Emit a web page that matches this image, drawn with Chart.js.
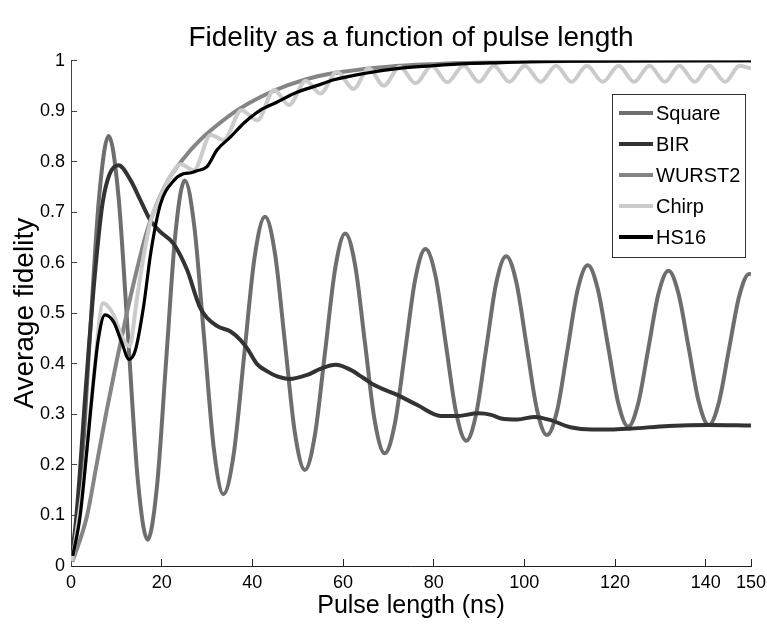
<!DOCTYPE html>
<html>
<head>
<meta charset="utf-8">
<script src="https://cdn.jsdelivr.net/npm/chart.js@4.4.1/dist/chart.umd.min.js"></script>
<style>
    html, body { margin: 0; padding: 0; background: #fff; }
    #wrap { width: 767px; height: 624px; }
</style>
</head>
<body>
<div id="wrap"><canvas id="chart" width="767" height="624"></canvas></div>
<script>
// tick values
const xTickValues = [0, 20, 40, 60, 80, 100, 120, 140, 150];
const yTickValues = [0, 0.1, 0.2, 0.3, 0.4, 0.5, 0.6, 0.7, 0.8, 0.9, 1];

const seriesNames = ["Square", "BIR", "WURST2", "Chirp", "HS16"];

// Square pulse (Rabi-like oscillation)
const squareX = [0, 1.9, 4.0, 6.2, 8.3, 10.45, 12.6, 14.75, 16.9, 18.95, 21.0, 23.05, 25.1,
    27.2, 29.35, 31.5, 33.6, 35.9, 38.2, 40.5, 42.8, 45.0, 47.2, 49.4, 51.6,
    53.8, 56.05, 58.3, 60.5, 62.7, 64.85, 67.0, 69.2, 71.45, 73.7, 75.95, 78.2,
    80.45, 82.7, 84.95, 87.2, 89.4, 91.6, 93.8, 96.0, 98.25, 100.5, 102.75, 105.0,
    107.25, 109.5, 111.75, 114.0, 116.2, 118.45, 120.7, 122.9, 125.1, 127.35, 129.6, 131.8,
    134.0, 136.25, 138.5, 140.7, 142.9, 145.15, 147.4, 149.6, 150];
const squareY = [0.012, 0.13, 0.43, 0.73, 0.851, 0.734, 0.452, 0.169, 0.052, 0.156, 0.408, 0.659, 0.763,
    0.672, 0.453, 0.233, 0.142, 0.222, 0.417, 0.611, 0.691, 0.618, 0.441, 0.263, 0.190,
    0.259, 0.424, 0.590, 0.658, 0.594, 0.441, 0.287, 0.223, 0.282, 0.425, 0.568, 0.627,
    0.572, 0.438, 0.304, 0.248, 0.302, 0.431, 0.560, 0.613, 0.561, 0.436, 0.311, 0.259,
    0.308, 0.427, 0.546, 0.595, 0.548, 0.436, 0.323, 0.276, 0.321, 0.430, 0.539, 0.584,
    0.539, 0.432, 0.324, 0.279, 0.323, 0.429, 0.534, 0.578, 0.577];

// BIR
const birX = [0, 1, 2, 3, 4, 5, 6, 7, 8.5, 10.5, 13.1, 15.3, 17.5, 19.7, 22.6, 25.6, 28.5,
    32.2, 35.2, 37.4, 38.9, 41, 43.3, 45.5, 48.1, 52.1, 55, 58.4, 61.7, 64.5, 66.9,
    72.1, 76.5, 81.6, 85.3, 89.8, 92.7, 94.9, 98.5, 102.3, 105.6, 110.4, 114.8, 119,
    123.7, 131.8, 140.6, 150];
const birY = [0.01, 0.08, 0.19, 0.32, 0.44, 0.55, 0.645, 0.72, 0.775, 0.793, 0.764, 0.724, 0.684,
    0.661, 0.638, 0.586, 0.511, 0.475, 0.464, 0.447, 0.43, 0.40, 0.385, 0.375, 0.37,
    0.378, 0.39, 0.398, 0.388, 0.372, 0.358, 0.338, 0.318, 0.297, 0.297, 0.302, 0.299,
    0.292, 0.29, 0.295, 0.289, 0.274, 0.27, 0.27, 0.272, 0.277, 0.279, 0.278];

// WURST2
const wurstX = [0.3, 3.5, 5.7, 7.9, 10.1, 12.3, 14.5, 16.5, 18.2, 21.2, 24.8, 28.5, 32.2,
    36.7, 41.8, 47.7, 54.4, 60, 70, 80, 90, 100, 110, 150];
const wurstY = [0.008, 0.098, 0.203, 0.309, 0.407, 0.5, 0.585, 0.655, 0.70, 0.76, 0.806, 0.843,
    0.872, 0.902, 0.928, 0.951, 0.969, 0.978, 0.988, 0.993, 0.996, 0.998, 0.999, 1.0];

// Chirp
const chirpX = [0.3, 2.7, 4.9, 7.1, 9.4, 11.2, 12.9, 14.5, 16.0, 17.5, 19.7, 22.0, 24.2, 27.1,
    30.8, 33.7, 37.6, 41.1, 44.8, 48.1, 51.8, 55.0, 58.7, 62.3, 65.7, 69.0, 72.5, 76.0,
    79.6, 83.0, 86.6, 90.0, 93.3, 96.7, 100.1, 103.6, 107.0, 110.4, 113.8, 117.3, 120.8,
    124.2, 127.6, 131.0, 134.2, 137.6, 140.8, 144.3, 147.5, 150];
const chirpY = [0.01, 0.164, 0.361, 0.52, 0.497, 0.454, 0.435, 0.526, 0.612, 0.68, 0.731, 0.772,
    0.795, 0.783, 0.853, 0.843, 0.902, 0.882, 0.942, 0.912, 0.96, 0.935, 0.978, 0.944,
    0.985, 0.95, 0.988, 0.955, 0.99, 0.957, 0.99, 0.958, 0.99, 0.958, 0.99, 0.958, 0.99,
    0.958, 0.99, 0.958, 0.99, 0.958, 0.99, 0.958, 0.99, 0.958, 0.99, 0.958, 0.99, 0.984];

// HS16
const hs16X = [0.4, 2, 3.5, 4.9, 6, 7.5, 9.4, 11.2, 12.8, 14.2, 16, 17.6, 19.7, 22.6, 24.8,
    26.5, 27.8, 30, 32.2, 35.2, 38.1, 41.8, 45.5, 49.2, 54.4, 58, 65, 72.8, 80, 87.5,
    95, 102, 110, 150];
const hs16Y = [0.02, 0.098, 0.229, 0.361, 0.447, 0.497, 0.483, 0.442, 0.409, 0.427, 0.513, 0.62,
    0.715, 0.762, 0.776, 0.778, 0.782, 0.79, 0.823, 0.849, 0.876, 0.902, 0.918, 0.935,
    0.951, 0.962, 0.975, 0.985, 0.99, 0.994, 0.996, 0.998, 0.999, 1.0];

const seriesColors = ["#6e6e6e", "#333333", "#858585", "#cbcbcb", "#000000"];
const FONT = "'Liberation Sans', Arial, Helvetica, sans-serif";

function toPoints(xs, ys) {
    return xs.map((x, i) => ({x: x, y: ys[i]}));
}

function makeDataset(idx, xs, ys, width) {
    return {
        label: seriesNames[idx],
        data: toPoints(xs, ys),
        borderColor: seriesColors[idx],
        backgroundColor: seriesColors[idx],
        borderWidth: width,
        pointRadius: 0,
        fill: false,
        cubicInterpolationMode: "monotone",
        order: 5 - idx
    };
}

// legend box inside the plot, top right
const boxLegend = {
    id: "boxLegend",
    afterDatasetsDraw(chart) {
        const ctx = chart.ctx;
        const left = 612, top = 94, w = 133, h = 163;
        ctx.save();
        ctx.fillStyle = "#fff";
        ctx.fillRect(left, top, w, h);
        ctx.strokeStyle = "#333";
        ctx.lineWidth = 1;
        ctx.strokeRect(left + 0.5, top + 0.5, w, h);
        ctx.font = "20px " + FONT;
        ctx.textBaseline = "middle";
        ctx.textAlign = "left";
        chart.data.datasets.forEach((ds, i) => {
            const y = top + 19 + i * 31;
            ctx.strokeStyle = ds.borderColor;
            ctx.lineWidth = 4;
            ctx.beginPath();
            ctx.moveTo(left + 7, y);
            ctx.lineTo(left + 41, y);
            ctx.stroke();
            ctx.fillStyle = "#000";
            ctx.fillText(ds.label, left + 44, y + 1);
        });
        ctx.restore();
    }
};

new Chart(document.getElementById("chart"), {
    type: "line",
    data: {
        datasets: [
            makeDataset(0, squareX, squareY, 4),
            makeDataset(1, birX, birY, 4),
            makeDataset(2, wurstX, wurstY, 4),
            makeDataset(3, chirpX, chirpY, 4),
            makeDataset(4, hs16X, hs16Y, 3.2)
        ]
    },
    options: {
        responsive: false,
        animation: false,
        devicePixelRatio: 1,
        layout: {padding: {left: 0, right: 16, top: 0, bottom: 0}},
        plugins: {
            legend: {display: false},
            tooltip: {enabled: false},
            title: {
                display: true,
                fullSize: false,
                text: "Fidelity as a function of pulse length",
                color: "#000",
                font: {family: FONT, size: 28, weight: "normal"},
                padding: {top: 21, bottom: 6}
            }
        },
        scales: {
            x: {
                type: "linear",
                min: 0,
                max: 150,
                afterBuildTicks: (s) => { s.ticks = xTickValues.map(v => ({value: v})); },
                afterFit: (s) => { s.height = 58; s.paddingLeft = 0; s.paddingRight = 0; },
                grid: {drawOnChartArea: false, drawTicks: true, tickLength: -7, color: "#222"},
                border: {display: true, color: "#222", width: 1},
                ticks: {
                    color: "#000",
                    font: {family: FONT, size: 18},
                    padding: 13,
                    maxRotation: 0,
                    autoSkip: false,
                    callback: (v) => String(v)
                },
                title: {
                    display: true,
                    text: "Pulse length (ns)",
                    color: "#000",
                    font: {family: FONT, size: 25},
                    padding: {top: 0, bottom: 3}
                }
            },
            y: {
                type: "linear",
                min: 0,
                max: 1,
                afterBuildTicks: (s) => { s.ticks = yTickValues.map(v => ({value: v})); },
                afterFit: (s) => { s.width = 71; s.paddingTop = 0; s.paddingBottom = 0; },
                grid: {drawOnChartArea: false, drawTicks: true, tickLength: -6, color: "#444"},
                border: {display: true, color: "#444", width: 1},
                ticks: {
                    color: "#000",
                    font: {family: FONT, size: 18},
                    padding: 12,
                    autoSkip: false,
                    callback: (v) => String(v)
                },
                title: {
                    display: true,
                    text: "Average fidelity",
                    color: "#000",
                    font: {family: FONT, size: 28},
                    padding: {top: 8, bottom: 0}
                }
            }
        }
    },
    plugins: [boxLegend]
});
</script>
</body>
</html>
